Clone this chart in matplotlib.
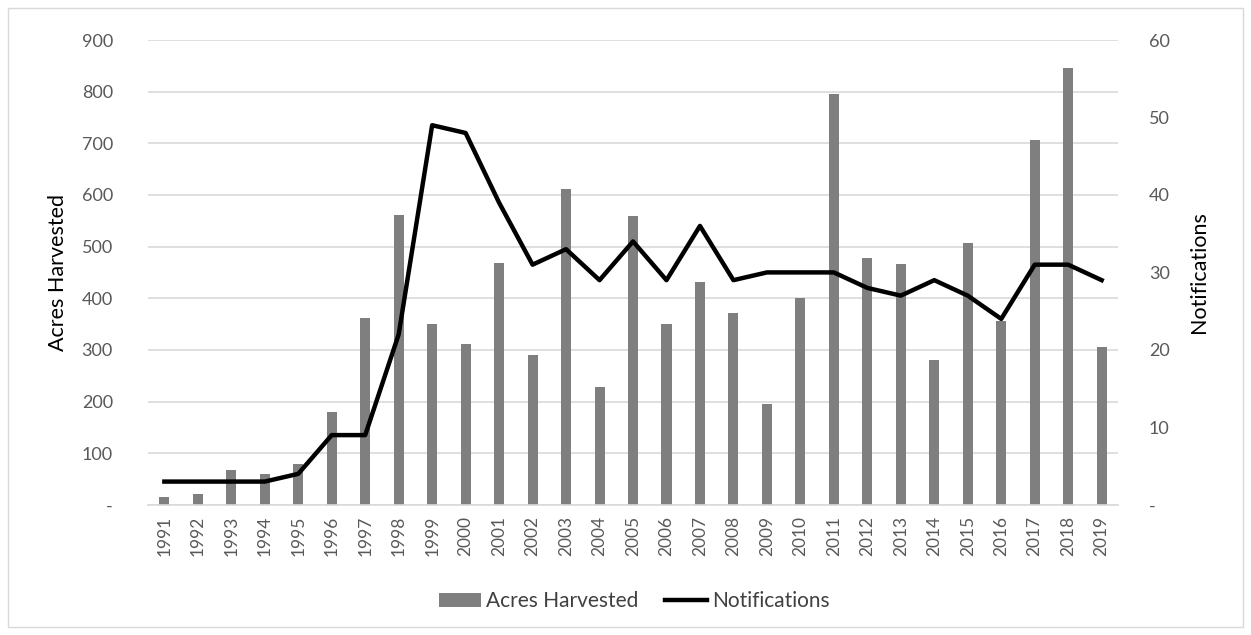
import matplotlib
matplotlib.use('Agg')
from matplotlib import pyplot as plt
from matplotlib.patches import Rectangle

years = [str(y) for y in range(1991, 2020)]
acres = [15, 21, 68, 60, 79, 180, 362, 561, 350, 311,
         469, 291, 611, 229, 559, 350, 432, 371, 195, 400,
         795, 477, 467, 280, 507, 355, 706, 845, 305]
notifications = [3, 3, 3, 3, 4, 9, 9, 22, 49, 48,
                 39, 31, 33, 29, 34, 29, 36, 29, 30, 30,
                 30, 28, 27, 29, 27, 24, 31, 31, 29]

plt.rcParams['font.family'] = ['Lato', 'DejaVu Sans']
tick_color = '#595959'
grid_color = '#d9d9d9'

fig = plt.figure(figsize=(12.51, 6.35), dpi=100)
ax = fig.add_axes([0.118, 0.205, 0.776, 0.732])
x = list(range(len(years)))

bars = ax.bar(x, acres, width=0.3, color='#7f7f7f', zorder=2, label='Acres Harvested')
ax.set_xlim(-0.5, len(years) - 0.5)
ax.set_ylim(0, 900)
ax.set_yticks(range(0, 1000, 100))
ax.set_yticklabels(['-'] + [str(v) for v in range(100, 1000, 100)])
ax.set_xticks(x)
ax.set_xticklabels(years, rotation=90)
ax.grid(axis='y', color=grid_color, linewidth=1.2, zorder=0)
ax.set_axisbelow(True)
for s in ['top', 'right', 'left']:
    ax.spines[s].set_visible(False)
ax.spines['bottom'].set_color(grid_color)
ax.spines['bottom'].set_linewidth(1.2)
ax.tick_params(axis='both', length=0, colors=tick_color, labelsize=13)
ax.tick_params(axis='y', pad=25)
ax.tick_params(axis='x', pad=8, labelsize=12.5)
ax.set_ylabel('Acres Harvested', fontsize=15.5, labelpad=10)

ax2 = ax.twinx()
line, = ax2.plot(x, notifications, color='black', linewidth=3.2, zorder=3, label='Notifications')
ax2.set_ylim(0, 60)
ax2.set_yticks(range(0, 70, 10))
ax2.set_yticklabels(['-'] + [str(v) for v in range(10, 70, 10)])
for s in ['top', 'right', 'left', 'bottom']:
    ax2.spines[s].set_visible(False)
ax2.tick_params(axis='y', length=0, colors=tick_color, labelsize=13, pad=22)
ax2.set_ylabel('Notifications', fontsize=15.5, labelpad=14)

fig.legend([bars, line], ['Acres Harvested', 'Notifications'], loc='center',
           bbox_to_anchor=(0.507, 0.053), ncol=2, frameon=False, fontsize=15,
           labelcolor='#404040', handlelength=2.0, handletextpad=0.25, columnspacing=1.3)

fig.patches.append(Rectangle((0.006, 0.012), 0.988, 0.976, transform=fig.transFigure,
                             fill=False, edgecolor='#d9d9d9', linewidth=1))

fig.savefig('out.png', dpi=100)
